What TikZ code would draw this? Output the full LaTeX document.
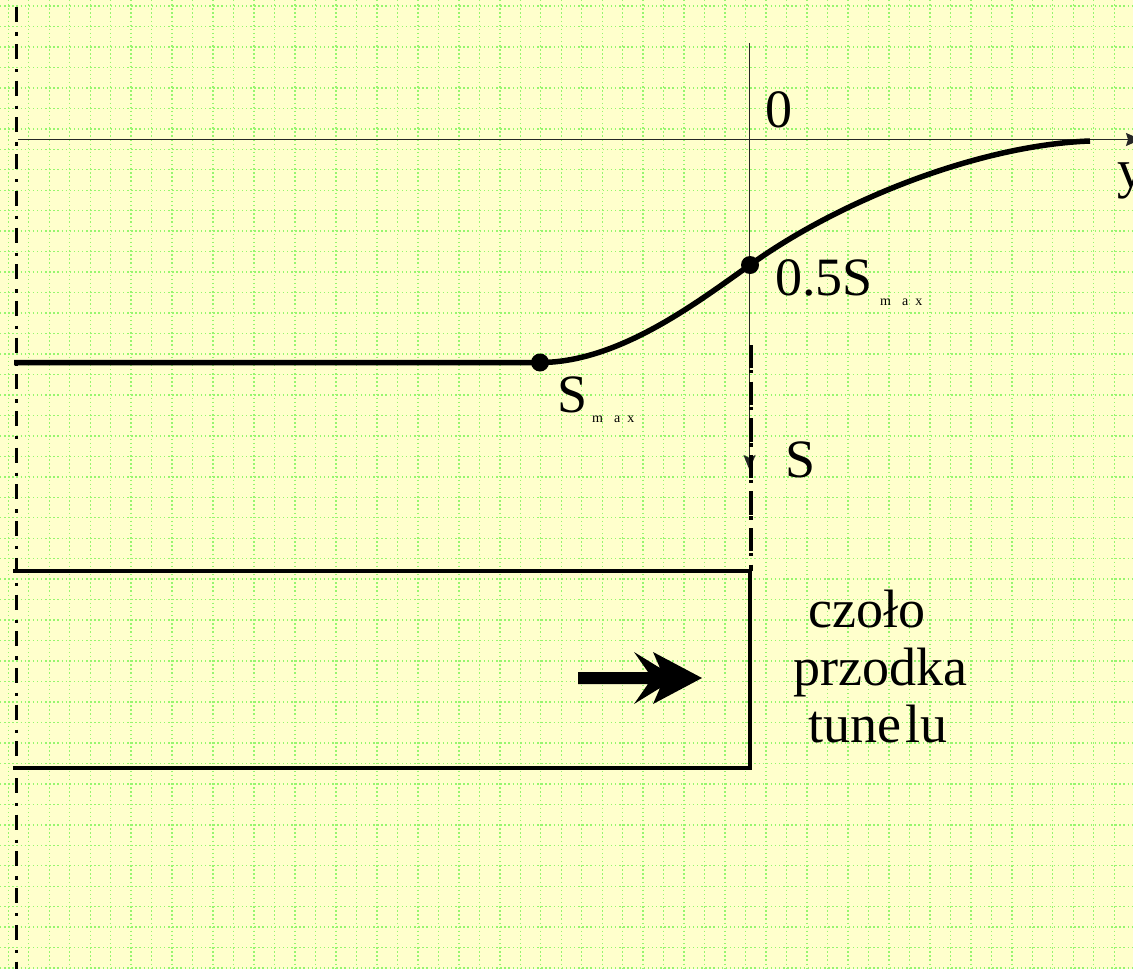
\documentclass[tikz,border=0pt]{standalone}
\usepackage{fontspec}
\setmainfont{Liberation Serif}
\usetikzlibrary{arrows.meta}
\definecolor{bgyellow}{RGB}{255,255,204}
\definecolor{gridgreen}{RGB}{150,245,110}
\begin{document}
\begin{tikzpicture}[x=1bp,y=-1bp,
  thinline/.style={line width=1.3bp, draw=black!85},
  curveline/.style={line width=5.5bp},
  boxline/.style={line width=4.5bp, line join=miter},
  dashdotA/.style={line width=3.3bp, dash pattern=on 15bp off 10bp on 3.3bp off 8.4bp},
  dashdotB/.style={line width=3.3bp, dash pattern=on 23.3bp off 1.7bp on 3.3bp off 8.3bp},
  dotnode/.style={circle, fill=black, inner sep=0pt, minimum size=18bp},
  lbl/.style={anchor=base west, inner sep=0pt, font=\fontsize{54bp}{60bp}\selectfont},
  sublbl/.style={anchor=base west, inner sep=0pt, font=\fontsize{14bp}{16bp}\selectfont},
  gridline/.style={draw=gridgreen, line width=1.4bp, dash pattern=on 1.4bp off 2.7bp}
]
% background and bounding box
\fill[bgyellow] (0,0) rectangle (1133,969);
\useasboundingbox (0,0) rectangle (1133,969);
% grid
\foreach \i in {0,...,55} {\draw[gridline] ({8.3+20.48*\i},0) -- ({8.3+20.48*\i},969);}
\foreach \j in {0,...,47} {\draw[gridline] (0,{6+20.47*\j}) -- (1133,{6+20.47*\j});}

% coordinates
\coordinate (ltop) at (16.5,-29.4);
\coordinate (lbot) at (16.5,980);
\coordinate (axstart) at (18,139.5);
\coordinate (axend) at (1141,139.5);
\coordinate (vtop) at (749.5,43);
\coordinate (vtip) at (749.5,470);
\coordinate (ddtop) at (751,345);
\coordinate (ddbot) at (751,571);
\coordinate (cstart) at (14,362.5);
\coordinate (smax) at (540,362.5);
\coordinate (half) at (750,265);
\coordinate (cend) at (1090,141);
\coordinate (btl) at (13,571);
\coordinate (btr) at (750,571);
\coordinate (bbr) at (750,768);
\coordinate (bbl) at (13,768);

% left dash-dot axis
\draw[dashdotA] (ltop) -- (lbot);
% horizontal axis y
\draw[thinline, -{Stealth[length=15bp,width=13bp,inset=2bp]}] (axstart) -- (axend);
% vertical axis S
\draw[thinline, -{Stealth[length=15bp,width=12bp,inset=3bp]}] (vtop) -- (vtip);
% tunnel face dash-dot
\draw[dashdotB] (ddtop) -- (ddbot);

% settlement curve
\draw[curveline] (cstart) -- (smax) .. controls (620,362.5) and (700,300) .. (half)
  .. controls (840,200) and (980,145) .. (cend);
\node[dotnode] (smaxdot) at (smax) {};
\node[dotnode] (halfdot) at (half) {};

% tunnel box
\draw[boxline] (btl) -- (btr) -- (bbr) -- (bbl);

% advance arrow
\fill (578,672) -- (648,672) -- (634,652) -- (660,668) -- (653,652) -- (702,678)
  -- (653,704) -- (660,688) -- (634,704) -- (648,684) -- (578,684) -- cycle;

% labels
\node[lbl] (lzero) at (765,127) {0};
\node[lbl] (ly) at (1117,187) {y};
\node[lbl] (lhalf) at (775,295) {0.5S};
\node[sublbl] (lhalfsub) at (880,305) {m\kern11bp a\kern7bp x};
\node[lbl] (lsmax) at (557,412) {S};
\node[sublbl] (lsmaxsub) at (592,422) {m\kern11bp a\kern7bp x};
\node[lbl] (ls) at (785.5,477) {S};
\node[lbl] (lt1) at (808,627) {czoło};
\node[lbl] (lt2) at (793,685) {przodka};
\node[lbl] (lt3) at (808,742) {tune\kern4bp lu};
\end{tikzpicture}
\end{document}
